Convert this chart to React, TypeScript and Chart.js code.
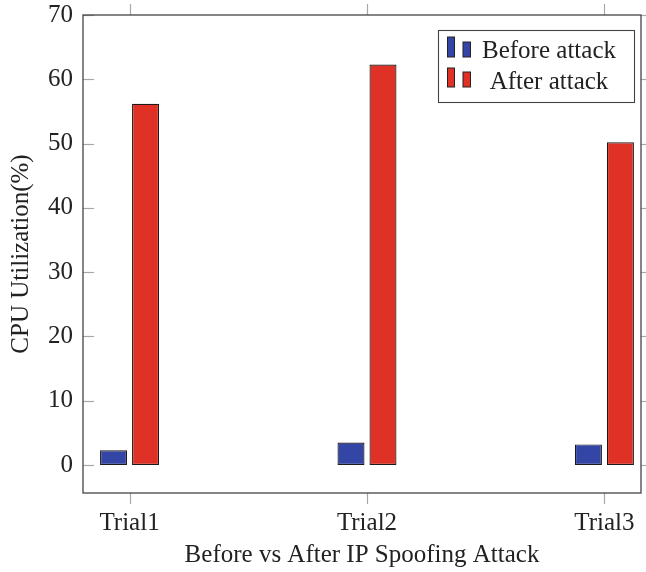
import React, { useEffect, useRef } from 'react';
import { Chart, registerables } from 'chart.js';

Chart.register(...registerables);

const categories = ['Trial1', 'Trial2', 'Trial3'];
const beforeAttack = [2.3, 3.5, 3.2];
const afterAttack = [56.2, 62.3, 50.2];
const seriesLabels = ['Before attack', 'After attack'];
const yTicks = [0, 10, 20, 30, 40, 50, 60, 70];
const xTitle = 'Before vs After IP Spoofing Attack';
const yTitle = 'CPU Utilization(%)';

const BLUE = 'rgb(52,70,165)';
const RED = 'rgb(224,49,38)';
const TEXT = '#222';
const FONT = "'Liberation Serif', 'Times New Roman', serif";

const framePlugin = {
  id: 'frameAndLegend',
  afterDraw(chart: any) {
    const { ctx, chartArea, scales } = chart;
    const { left, right, top, bottom } = chartArea;
    const x = scales.x;
    const y = scales.y;
    ctx.save();
    const line = (x1: number, y1: number, x2: number, y2: number) => {
      ctx.beginPath();
      ctx.moveTo(x1, y1);
      ctx.lineTo(x2, y2);
      ctx.stroke();
    };
    ctx.strokeStyle = '#a8a8a8';
    ctx.lineWidth = 1.2;
    x.ticks.forEach((t: any) => {
      const px = Math.round(x.getPixelForValue(t.value)) + 0.5;
      line(px, bottom, px, bottom + 11);
      line(px, top - 11, px, top);
    });
    y.ticks.forEach((t: any) => {
      const py = Math.round(y.getPixelForValue(t.value)) + 0.5;
      line(left, py, left + 11, py);
      line(right, py, right + 7, py);
    });
    ctx.strokeStyle = '#444';
    ctx.lineWidth = 1.3;
    ctx.strokeRect(left, top, right - left, bottom - top);

    // legend
    const bw = 196;
    const bh = 72;
    const bx = right - 7 - bw;
    const by = top + 15;
    ctx.fillStyle = '#fff';
    ctx.fillRect(bx, by, bw, bh);
    ctx.strokeStyle = '#444';
    ctx.lineWidth = 1.1;
    ctx.strokeRect(bx + 0.5, by + 0.5, bw, bh);
    const ds = chart.data.datasets;
    const rows = [
      { base: by + 27, tall: 20, text: by + 27.5 },
      { base: by + 57, tall: 19, text: by + 58.5 },
    ];
    ds.forEach((d: any, i: number) => {
      const r = rows[i];
      ctx.fillStyle = d.backgroundColor;
      ctx.strokeStyle = '#222';
      ctx.lineWidth = 1;
      ctx.fillRect(bx + 9.5, r.base - r.tall, 7, r.tall);
      ctx.strokeRect(bx + 9.5, r.base - r.tall, 7, r.tall);
      ctx.fillRect(bx + 25, r.base - 15, 7.5, 15);
      ctx.strokeRect(bx + 25, r.base - 15, 7.5, 15);
      ctx.fillStyle = TEXT;
      ctx.font = `25px ${FONT}`;
      ctx.textAlign = 'center';
      ctx.textBaseline = 'alphabetic';
      ctx.fillText(d.label, bx + 111, r.text);
    });
    ctx.restore();
  },
};

export default function App() {
  const ref = useRef<HTMLCanvasElement | null>(null);
  useEffect(() => {
    document.body.style.margin = '0';
    const canvas = ref.current;
    if (!canvas) return;
    const chart = new Chart(canvas, {
      type: 'bar',
      data: {
        datasets: [
          {
            label: seriesLabels[0],
            data: categories.map((_, i) => ({ x: i, y: beforeAttack[i] })),
            backgroundColor: BLUE,
            borderColor: '#1a1a1a',
            borderWidth: 1.2,
            borderSkipped: false,
            categoryPercentage: 0.2695,
            barPercentage: 0.844,
          },
          {
            label: seriesLabels[1],
            data: categories.map((_, i) => ({ x: i, y: afterAttack[i] })),
            backgroundColor: RED,
            borderColor: '#1a1a1a',
            borderWidth: 1.2,
            borderSkipped: false,
            categoryPercentage: 0.2695,
            barPercentage: 0.844,
          },
        ],
      } as any,
      options: {
        animation: false,
        responsive: false,
        maintainAspectRatio: false,
        layout: { padding: { left: 0, right: 5, top: 15, bottom: 0 } },
        plugins: { legend: { display: false }, tooltip: { enabled: false } },
        scales: {
          x: {
            type: 'linear',
            min: -0.196,
            max: 2.154,
            offset: false,
            grid: { display: false, drawTicks: false },
            border: { display: false },
            afterBuildTicks: (s: any) => {
              s.ticks = categories.map((_, i) => ({ value: i }));
            },
            ticks: {
              padding: 15,
              color: TEXT,
              font: { family: FONT, size: 25 },
              maxRotation: 0,
              autoSkip: false,
              callback: (v: any) => categories[v] ?? '',
            },
            title: {
              display: true,
              text: xTitle,
              color: TEXT,
              font: { family: FONT, size: 25 },
              padding: { top: 0, bottom: 2 },
            },
            afterFit: (s: any) => {
              s.height = 79;
              s.paddingLeft = 0;
              s.paddingRight = 0;
              s.paddingTop = 0;
              s.paddingBottom = 0;
            },
          },
          y: {
            min: -4.36,
            max: 70,
            grid: { display: false, drawTicks: false },
            border: { display: false },
            afterBuildTicks: (s: any) => {
              s.ticks = yTicks.map((v) => ({ value: v }));
            },
            ticks: {
              padding: 10,
              color: TEXT,
              font: { family: FONT, size: 25 },
            },
            title: {
              display: true,
              text: yTitle,
              color: TEXT,
              font: { family: FONT, size: 25 },
              padding: { top: 6, bottom: 0 },
            },
            afterFit: (s: any) => {
              s.width = 83;
              s.paddingLeft = 0;
              s.paddingRight = 0;
              s.paddingTop = 0;
              s.paddingBottom = 0;
            },
          },
        },
      } as any,
      plugins: [framePlugin],
    });
    return () => chart.destroy();
  }, []);
  return (
    <div style={{ width: 646, height: 572 }}>
      <canvas ref={ref} width={646} height={572} style={{ display: 'block' }} />
    </div>
  );
}
